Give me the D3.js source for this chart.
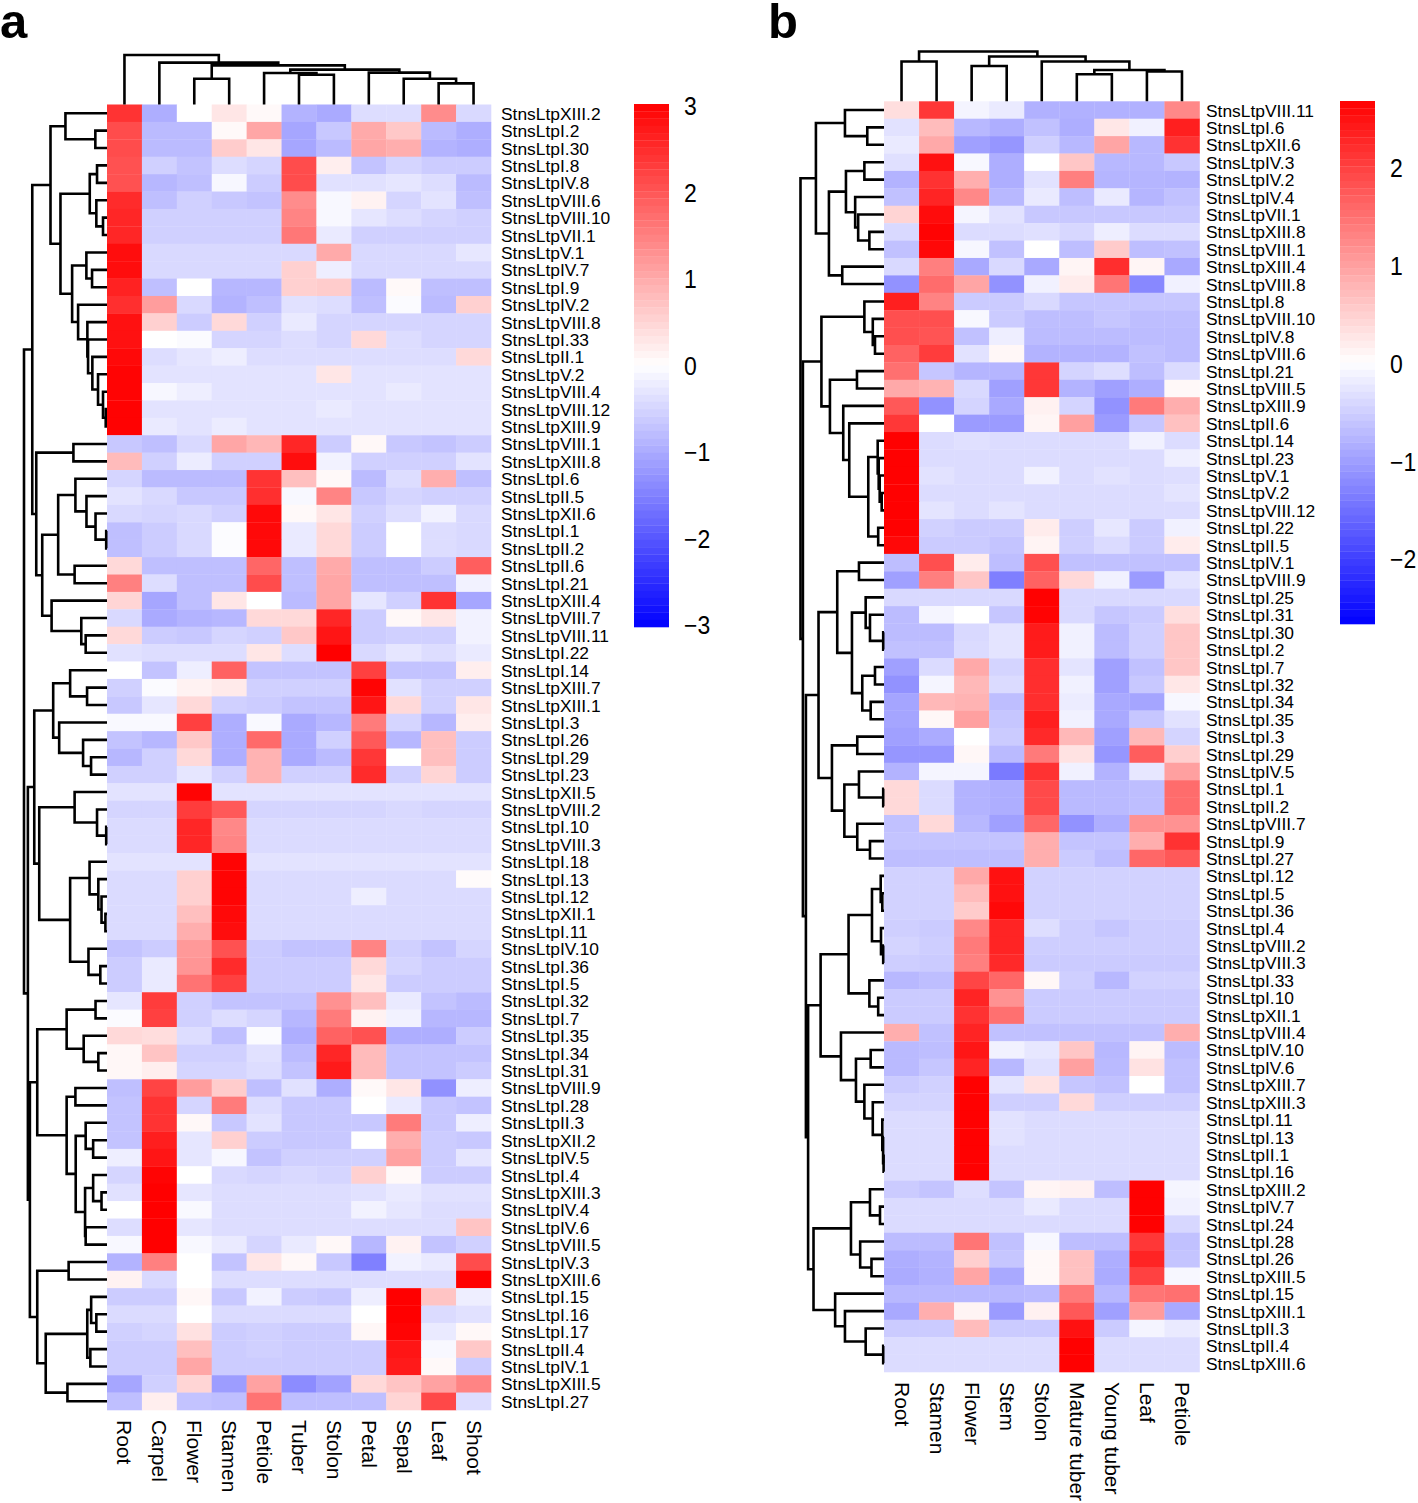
<!DOCTYPE html>
<html><head><meta charset="utf-8">
<style>html,body{margin:0;padding:0;background:#fff}svg{display:block}text{font-family:"Liberation Sans",Arial,sans-serif;fill:#000}</style>
<script src="https://cdn.jsdelivr.net/npm/d3@7"></script></head><body>
<svg id="c" width="1418" height="1503"></svg>
<script>
const L = 0; // a leaf of a dendrogram; inner nodes are [mergeHeight, left, right]

const colsA = ["Root","Carpel","Flower","Stamen","Petiole","Tuber","Stolon","Petal","Sepal","Leaf","Shoot"];
const rowsA = ["XIII.2","I.2","I.30","I.8","IV.8","VIII.6","VIII.10","VII.1","V.1","IV.7","I.9","IV.2","VIII.8","I.33","II.1","V.2","VIII.4","VIII.12","XIII.9","VIII.1","XIII.8","I.6","II.5","XII.6","I.1","II.2","II.6","I.21","XIII.4","VIII.7","VIII.11","I.22","I.14","XIII.7","XIII.1","I.3","I.26","I.29","I.23","XII.5","VIII.2","I.10","VIII.3","I.18","I.13","I.12","XII.1","I.11","IV.10","I.36","I.5","I.32","I.7","I.35","I.34","I.31","VIII.9","I.28","II.3","XII.2","IV.5","I.4","XIII.3","IV.4","IV.6","VIII.5","IV.3","XIII.6","I.15","I.16","I.17","II.4","IV.1","XIII.5","I.27"].map(s=>"StnsLtp"+s);
const valuesA = [
[2.4,-.95,0,.3,.07,-.9,-1,-.4,-.4,1.35,-.45],
[2.1,-.8,-.8,.07,1.05,-1.05,-.65,1,.65,-.8,-.95],
[2.1,-.8,-.8,.6,.3,-1.05,-.8,1.05,.95,-.9,-.95],
[2.05,-.55,-.7,-.4,-.5,2.1,.2,-.7,-.5,-.6,-.6],
[2.05,-.85,-.75,-.1,-.6,2.1,-.35,-.35,-.3,-.4,-.8],
[2.5,-.75,-.55,-.65,-.7,1.35,-.08,.15,-.5,-.33,-.75],
[2.55,-.55,-.55,-.55,-.55,1.45,-.08,-.3,-.4,-.5,-.55],
[2.55,-.55,-.55,-.55,-.55,1.6,-.25,-.55,-.55,-.55,-.55],
[2.85,-.45,-.45,-.45,-.45,-.45,1,-.45,-.45,-.45,-.28],
[2.85,-.45,-.45,-.45,-.45,.55,-.2,-.45,-.45,-.45,-.45],
[2.6,-.75,0,-.85,-.85,.55,.6,-.8,.07,-.75,-.75],
[2.45,1.15,-.45,-.9,-.75,-.35,-.4,-.75,-.05,-.8,.55],
[2.8,.55,-.6,.45,-.55,-.25,-.5,-.5,-.5,-.5,-.5],
[2.8,0,-.05,-.5,-.5,-.4,-.5,.45,-.4,-.5,-.5],
[2.9,-.4,-.3,-.2,-.4,-.4,-.4,-.4,-.4,-.4,.45],
[2.95,-.33,-.33,-.33,-.33,-.33,.3,-.33,-.33,-.33,-.33],
[2.95,-.1,-.2,-.33,-.33,-.33,-.33,-.33,-.25,-.33,-.33],
[2.98,-.33,-.33,-.33,-.33,-.33,-.25,-.33,-.33,-.33,-.33],
[2.98,-.25,-.33,-.22,-.33,-.33,-.33,-.33,-.33,-.33,-.33],
[-.65,-.75,-.45,1.05,.85,2.55,-.6,.08,-.65,-.7,-.6],
[.8,-.55,-.22,-.55,-.55,2.85,-.15,-.55,-.55,-.55,-.33],
[-.5,-.8,-.8,-.8,2.4,.75,.07,-.8,-.4,.95,-.75],
[-.33,-.45,-.65,-.65,2.45,-.08,1.45,-.65,-.5,-.55,-.55],
[-.45,-.5,-.45,-.55,2.9,.07,.3,-.55,-.4,-.15,-.45],
[-.75,-.6,-.45,-.03,2.9,-.25,.45,-.6,0,-.4,-.45],
[-.75,-.6,-.45,-.03,2.9,-.25,.45,-.6,0,-.4,-.45],
[.45,-.75,-.75,-.75,1.8,-.75,1,-.75,-.75,-.6,1.9],
[1.5,-.4,-.75,-.75,2.1,-.75,1.05,-.75,-.75,-.75,-.15],
[.5,-1.05,-.75,.3,0,-.8,1.05,-.3,-.55,2.4,-1.05],
[-.45,-1,-.9,-.85,.45,.45,2.55,-.6,.08,.3,-.15],
[.45,-.6,-.65,-.5,-.55,.65,2.75,-.6,-.55,-.55,-.15],
[-.35,-.4,-.4,-.4,.3,-.4,3,-.45,-.3,-.4,-.25],
[0,-.7,-.2,1.85,-.7,-.7,-.7,2.25,-.7,-.7,.2],
[-.55,-.05,.15,.25,-.55,-.55,-.55,2.95,-.35,-.55,-.55],
[-.65,-.3,.45,-.55,-.6,-.7,-.7,2.75,.45,-.55,.3],
[-.07,-.07,2.25,-.95,-.07,-1,-.85,1.55,-.5,-.85,.2],
[-.7,-.85,.65,-.95,1.75,-1,-.55,1.95,-.85,.75,-.6],
[-.85,-.55,.45,-.95,.9,-1,-.8,2.35,0,.75,-.6],
[-.55,-.55,-.3,-.55,.9,-.55,-.55,2.5,-.55,.5,-.6],
[-.33,-.33,2.95,-.33,-.33,-.33,-.33,-.33,-.33,-.33,-.33],
[-.5,-.5,2.3,1.95,-.5,-.5,-.5,-.5,-.45,-.5,-.5],
[-.42,-.42,2.55,1.4,-.42,-.42,-.42,-.42,-.42,-.42,-.42],
[-.42,-.42,2.55,1.45,-.42,-.42,-.42,-.42,-.42,-.42,-.42],
[-.33,-.33,-.33,2.95,-.33,-.33,-.33,-.33,-.33,-.33,-.33],
[-.42,-.42,.55,2.95,-.42,-.42,-.42,-.42,-.42,-.42,.05],
[-.42,-.42,.55,2.95,-.42,-.42,-.42,-.2,-.42,-.42,-.42],
[-.42,-.42,.75,2.9,-.42,-.42,-.42,-.42,-.42,-.42,-.42],
[-.42,-.42,.95,2.85,-.42,-.42,-.42,-.42,-.42,-.42,-.42],
[-.7,-.6,1.2,2.05,-.6,-.7,-.7,1.45,-.55,-.7,-.5],
[-.6,-.25,1.25,2.5,-.6,-.6,-.6,.45,-.5,-.6,-.6],
[-.6,-.25,1.65,2.25,-.6,-.6,-.6,.3,-.6,-.6,-.6],
[-.3,2.3,-.55,-.7,-.7,-.7,1.3,.75,-.25,-.7,-.8],
[-.05,2.25,-.55,-.4,-.5,-.85,1.55,.15,-.15,-.85,-.85],
[.45,.4,-.4,-.75,-.05,-.95,1.85,2.05,-.95,-.95,-.6],
[.1,.7,-.55,-.55,-.35,-.8,2.55,.8,-.7,-.7,-.7],
[.1,.2,-.5,-.5,-.4,-.7,2.7,.8,-.7,-.7,-.6],
[-.75,2.2,1.15,.6,-.75,-.35,-.95,.07,.3,-1.3,-.2],
[-.7,2.4,-.5,1.55,-.4,-.65,-.65,0,-.25,-.65,-.7],
[-.7,2.4,.08,-.65,-.33,-.65,-.65,-.65,1.55,-.65,-.2],
[-.7,2.65,-.3,.55,-.6,-.65,-.65,0,.95,-.6,-.65],
[-.2,2.75,-.3,-.1,-.7,-.55,-.55,-.55,1.1,-.6,-.3],
[-.5,2.95,0,-.45,-.5,-.45,-.5,.55,.07,-.6,-.6],
[-.35,3,-.3,-.4,-.4,-.4,-.4,-.35,-.25,-.35,-.35],
[0,3,-.07,-.4,-.4,-.4,-.4,-.15,-.3,-.4,-.4],
[-.4,3,-.3,-.4,-.4,-.4,-.4,-.4,-.4,-.4,.7],
[-.08,3,-.08,-.25,-.5,-.25,.08,-.85,.15,-.7,-.55],
[-.9,1.5,0,-.7,.3,.08,-.65,-1.5,-.15,-.25,2.1],
[.15,-.45,0,-.4,-.4,-.4,-.4,-.4,-.4,-.4,3],
[-.6,-.6,.1,-.65,-.15,-.6,-.65,-.2,3,.7,-.2],
[-.42,-.42,0,-.42,-.42,-.42,-.42,0,3,-.42,-.35],
[-.55,-.5,.35,-.6,-.55,-.6,-.6,.1,2.95,-.25,.08],
[-.6,-.6,.75,-.6,-.55,-.6,-.6,-.6,2.75,-.08,.65],
[-.6,-.6,1.05,-.6,-.6,-.6,-.6,-.6,2.7,.07,-.6],
[-1.05,-.55,.5,-1.15,1.1,-1.35,-1.1,.45,.7,1.1,1.45],
[-.75,.2,-.7,-.75,1.65,-.75,-.75,-.75,.5,2.15,-.4]];
const rowTreeA = [83.3,
 [75,
  [56.7,[41.7,L,[11.7,L,L]],
   [46.7,[17.3,[10,L,L],[10.7,L,[4,L,L]]],
    [35,[20.7,L,[15,L,L]],
     [29,L,[19.7,L,[19,L,[14.7,L,[9,L,[4,L,[1.3,L,L]]]]]]]]]],
  [71,[33.7,L,L],
   [65,[49,[31.7,L,[20.6,L,[11.5,L,[0.8,L,L]]]],[32.5,L,L]],
    [55.6,L,[25.8,L,[21.4,L,L]]]]]],
 [79.4,
  [73,[54,[37,L,[20,L,L]],[48,L,[24,L,[16,L,L]]]],
   [68,[32.5,L,[10,L,[0.8,L,L]]],
    [37,[17.5,L,[8.7,L,[5.5,L,[1.6,L,L]]]],[18.6,L,[6.7,L,L]]]]],
  [77.4,
   [70,[40.5,[11.5,L,L],[23.4,L,[8.7,L,L]]],
    [40.5,[31.7,L,L],[31.4,[21.4,L,[13.9,L,L]],[22,[13.9,L,[5.5,L,L]],[21.4,L,L]]]]],
   [70,[38.5,L,L],[61.5,[19.8,[15.9,L,[10.7,L,L]],[16.7,L,L]],[39.7,L,L]]]]]];
const colTreeA = [49.3,L,[41.7,L,[39,[25.7,L,L],[34.7,[31.3,L,[29.7,L,L]],[31.7,L,[25.7,L,[21,L,L]]]]]]];
const ticksA = [3,2,1,0,-1,-2,-3];

const colsB = ["Root","Stamen","Flower","Stem","Stolon","Mature tuber","Young tuber","Leaf","Petiole"];
const rowsB = ["VIII.11","I.6","XII.6","IV.3","IV.2","IV.4","VII.1","XIII.8","VIII.1","XIII.4","VIII.8","I.8","VIII.10","IV.8","VIII.6","I.21","VIII.5","XIII.9","II.6","I.14","I.23","V.1","V.2","VIII.12","I.22","II.5","IV.1","VIII.9","I.25","I.31","I.30","I.2","I.7","I.32","I.34","I.35","I.3","I.29","IV.5","I.1","II.2","VIII.7","I.9","I.27","I.12","I.5","I.36","I.4","VIII.2","VIII.3","I.33","I.10","XII.1","VIII.4","IV.10","IV.6","XIII.7","XIII.3","I.11","I.13","II.1","I.16","XIII.2","IV.7","I.24","I.28","I.26","XIII.5","I.15","XIII.1","II.3","II.4","XIII.6"].map(s=>"StnsLtp"+s);
const valuesB = [
[.35,2.1,-.12,-.22,-.82,-.82,-.82,-.82,1.25],
[-.3,.7,-.75,-.85,-.65,-.85,.25,-.15,2.35],
[-.22,.9,-1,-1.1,-.5,-.75,.95,-.75,2.15],
[-.33,2.5,-.07,-.85,0,.6,-.75,-.75,-.58],
[-.8,2.15,.85,-.85,-.3,1.35,-.78,-.78,-.8],
[-.65,2.3,1.25,-.75,-.22,-.68,-.22,-.78,-.65],
[.45,2.55,-.1,-.3,-.58,-.58,-.58,-.58,-.58],
[-.4,2.65,-.37,-.37,-.33,-.42,-.18,-.37,-.37],
[-.65,2.6,-.08,-.65,0,-.68,.55,-.68,-.65],
[-.4,1.35,-.9,-.4,-.9,.1,2.2,.1,-.9],
[-1.15,1.55,.95,-1.15,-.15,.2,1.45,-1.25,-.15],
[2.35,1.3,-.55,-.55,-.4,-.6,-.6,-.6,-.6],
[1.85,1.85,-.07,-.55,-.68,-.68,-.6,-.68,-.68],
[1.85,1.8,-.65,-.18,-.7,-.7,-.7,-.7,-.7],
[1.65,2.05,-.3,.08,-.8,-.8,-.8,-.65,-.7],
[1.5,-.6,-.78,-.78,2.1,-.45,-.35,-.68,-.38],
[.9,.8,-.4,-1,2.1,-.8,-1,-.85,.07],
[1.75,-1.15,-.45,-.9,.15,-.45,-1.15,1.4,.85],
[2.1,0,-1.05,-1.05,.1,1,-1.05,-.6,.65],
[2.67,-.37,-.33,-.37,-.37,-.37,-.37,-.15,-.37],
[2.67,-.37,-.37,-.37,-.37,-.37,-.37,-.37,-.17],
[2.67,-.3,-.37,-.37,-.15,-.37,-.3,-.37,-.35],
[2.67,-.37,-.37,-.37,-.37,-.37,-.37,-.37,-.28],
[2.67,-.28,-.37,-.28,-.37,-.37,-.37,-.37,-.37],
[2.67,-.48,-.55,-.55,.2,-.52,-.25,-.55,-.15],
[2.6,-.55,-.55,-.62,.12,-.5,-.38,-.55,.2],
[-.68,1.85,.2,-.68,1.85,-.65,-.65,-.65,-.65],
[-1,1.35,.6,-1.35,1.65,.4,-.15,-1.05,-.28],
[-.4,-.4,-.4,-.4,2.67,-.4,-.4,-.4,-.4],
[-.7,-.1,0,-.6,2.65,-.4,-.6,-.55,.35],
[-.7,-.7,-.4,-.28,2.4,-.15,-.7,-.5,.6],
[-.65,-.65,-.38,-.28,2.4,-.15,-.7,-.5,.6],
[-1,-.38,.9,-.45,2.2,-.28,-1,-.65,.6],
[-1.15,-.1,.75,-.38,2.2,-.15,-1,-.58,.25],
[-.95,.75,.8,-.68,2.2,-.2,-.9,-.95,-.08],
[-.95,.08,1,-.6,2.35,-.15,-.9,-.6,-.3],
[-1,-.88,0,-.55,2.25,.75,-1,.75,-.45],
[-1.1,-1.1,.08,-.72,1.4,.3,-1.1,1.7,.5],
[-.8,-.1,-.1,-1.4,2.15,-.15,-.8,-.25,1],
[.4,-.38,-.8,-.85,1.9,-.72,-.72,-.68,1.55],
[.4,-.38,-.8,-.85,1.9,-.72,-.72,-.68,1.55],
[-.65,.4,-.75,-1,1.6,-1.15,-.85,1.15,1.15],
[-.62,-.62,-.62,-.62,.85,-.62,-.62,.85,2.15],
[-.68,-.68,-.68,-.68,.85,-.55,-.68,1.6,1.75],
[-.47,-.47,.9,2.5,-.47,-.47,-.47,-.47,-.47],
[-.47,-.47,.7,2.5,-.47,-.47,-.47,-.47,-.47],
[-.47,-.47,.55,2.6,-.47,-.47,-.47,-.47,-.47],
[-.5,-.55,1.25,2.3,-.35,-.52,-.6,-.52,-.52],
[-.45,-.52,1.4,2.3,-.52,-.52,-.52,-.52,-.52],
[-.52,-.55,1.35,2.25,-.55,-.55,-.55,-.55,-.55],
[-.75,-.68,1.95,1.6,.08,-.5,-.75,-.47,-.47],
[-.55,-.55,2.3,1.15,-.55,-.55,-.55,-.55,-.55],
[-.55,-.55,2.15,1.5,-.55,-.55,-.55,-.55,-.55],
[.85,-.65,2.3,-.65,-.65,-.65,-.65,-.65,.85],
[-.72,-.68,2.45,-.15,-.25,.6,-.75,.12,-.7],
[-.72,-.6,2.3,-.75,-.33,1,-.72,.3,-.65],
[-.55,-.48,2.67,-.28,.3,-.6,-.65,0,-.65],
[-.45,-.45,2.67,-.5,-.5,.4,-.5,-.5,-.5],
[-.37,-.37,2.67,-.3,-.37,-.37,-.37,-.37,-.37],
[-.37,-.37,2.67,-.3,-.37,-.37,-.37,-.37,-.37],
[-.37,-.37,2.67,-.37,-.37,-.37,-.37,-.37,-.37],
[-.37,-.37,2.67,-.37,-.37,-.37,-.37,-.37,-.37],
[-.55,-.62,-.35,-.62,.1,.15,-.68,2.67,-.1],
[-.38,-.38,-.38,-.38,-.22,-.38,-.38,2.67,-.15],
[-.38,-.38,-.38,-.38,-.38,-.38,-.38,2.67,-.42],
[-.7,-.7,1.45,-.65,-.08,-.68,-.68,2.1,-.65],
[-.85,-.8,.5,-.6,.07,.65,-.85,2.3,-.62],
[-.88,-.82,.95,-.9,.07,.65,-.88,2,-.08],
[-.75,-.75,-.75,-.75,-.72,1.4,-.75,1.45,1.5],
[-.9,.85,.12,-1.05,.15,1.75,-1,1.05,-.9],
[-.55,-.55,.7,-.55,-.55,2.5,-.55,-.12,-.22],
[-.37,-.37,-.37,-.37,-.37,2.67,-.37,-.37,-.37],
[-.37,-.37,-.37,-.37,-.37,2.67,-.37,-.37,-.37]];
const rowTreeB = [83.4,
 [68,[39,L,[16.7,L,L]],
  [55,[38,[19.6,L,L],[28.8,L,[25.8,L,[14.6,L,L]]]],[41.7,L,L]]],
 [81,
  [62.5,[19.6,L,[11.2,L,[9,L,L]]],
   [54,[27,L,L],[40.7,L,[34.7,L,[15.7,[6.3,L,[5.3,L,[4.3,L,[2.3,L,L]]]],[5.8,L,L]]]]]],
  [78,
   [65.4,
    [46.7,[25,L,L],[32,[18.3,L,[14,L,[0.8,L,L]]],[21.7,[9,L,L],[13.3,L,L]]]],
    [52,[26.7,L,L],[39.6,[25,L,[0.8,L,L]],[26.7,L,[14,L,L]]]]],
   [75.8,
    [63.3,
     [35.4,[12,[3.3,L,[1.7,L,L]],[3,L,[0.8,L,L]]],[14.6,L,[5.8,L,L]]],
     [43,L,[28,[13.3,L,L],[19.6,L,[11.2,L,[1.7,L,[0.9,L,[0.4,L,L]]]]]]]],
    [70.4,
     [33,[14,L,[4,L,L]],[23.8,L,[12.5,L,L]]],
     [48.8,L,[39,L,[18.3,L,[0.8,L,L]]]]]]]]];
const colTreeB = [49.7,[39.7,L,L],[44.7,[35.3,L,L],[39.7,L,[31.3,[27,L,L],[29.7,L,L]]]]];
const ticksB = [2,1,0,-1,-2];

const svg = d3.select("#c");

function dendrogram(g, tree, band, span, horizontal){
  const root = d3.hierarchy(tree, d => Array.isArray(d) ? d.slice(1) : null);
  const h = d3.scaleLinear().domain([0, tree[0]]).range(span);
  root.leaves().forEach((n,i) => { n.pos = band(i) + band.bandwidth()/2; });
  root.eachAfter(n => { if(n.children) n.pos = (n.children[0].pos + n.children[1].pos)/2; });
  const H = n => h(n.children ? n.data[0] : 0);
  g.selectAll("path").data(root.descendants().filter(n => n.children)).join("path")
    .attr("fill","none").attr("stroke","#000").attr("stroke-width",2.6)
    .attr("d", n => {
      const [a,b] = n.children;
      const pts = [[H(a),a.pos],[H(n),a.pos],[H(n),b.pos],[H(b),b.pos]];
      return d3.line()(horizontal ? pts : pts.map(p => [p[1],p[0]]));
    });
}

function panel(o){
  const x = d3.scaleBand().domain(d3.range(o.cols.length)).range([o.x0,o.x1]);
  const y = d3.scaleBand().domain(d3.range(o.rows.length)).range([o.y0,o.y1]);
  const color = d3.scaleLinear().domain([-o.max,0,o.max]).range(["#0000ff","#ffffff","#ff0000"]);
  const g = svg.append("g");
  g.selectAll("g").data(o.values).join("g").selectAll("rect")
    .data((r,i) => r.map((v,j) => ({v,i,j}))).join("rect")
    .attr("x",d=>x(d.j)).attr("y",d=>y(d.i))
    .attr("width",x.bandwidth()+.3).attr("height",y.bandwidth()+.3)
    .attr("fill",d=>color(d.v));

  dendrogram(svg.append("g"), o.rowTree, y, [o.x0,o.rowEdge], true);
  dendrogram(svg.append("g"), o.colTree, x, [o.y0,o.colEdge], false);

  const yLab = d3.scalePoint().domain(o.rows).range([y(0)+y.bandwidth()/2, y(o.rows.length-1)+y.bandwidth()/2]);
  const ax = svg.append("g").attr("transform",`translate(${o.x1+o.labelGap},0)`)
    .call(d3.axisRight(yLab).tickSize(0).tickPadding(0));
  ax.select(".domain").remove();
  ax.selectAll(".tick text").attr("font-size",17.4).attr("font-family",null)
    .attr("dy",null).attr("dominant-baseline","central");

  const xLab = d3.scalePoint().domain(o.cols).range([x(0)+x.bandwidth()/2, x(o.cols.length-1)+x.bandwidth()/2]);
  const bx = svg.append("g").attr("transform",`translate(0,${o.y1+10})`)
    .call(d3.axisBottom(xLab).tickSize(0).tickPadding(0));
  bx.select(".domain").remove();
  bx.selectAll(".tick text").attr("font-size",21).attr("font-family",null)
    .attr("y",0).attr("dy",null).attr("text-anchor","start").attr("dominant-baseline","central")
    .attr("transform","rotate(90)");

  const steps = d3.range(o.bands);
  const bandY = d3.scaleBand().domain(steps).range([o.cbY0,o.cbY1]);
  svg.append("g").selectAll("rect").data(steps).join("rect")
    .attr("x",o.cbX).attr("width",o.cbW).attr("y",s=>bandY(s)).attr("height",bandY.bandwidth()+.3)
    .attr("fill",s=>color(o.max - 2*o.max*(s+.5)/o.bands));
  const tickScale = d3.scaleLinear().domain(o.tickDomain).range(o.tickRange);
  const cx = svg.append("g").attr("transform",`translate(${o.cbX+o.cbW+15},0)`)
    .call(d3.axisRight(tickScale).tickValues(o.ticks).tickFormat(d3.format("d")).tickSize(0).tickPadding(0));
  cx.select(".domain").remove();
  cx.selectAll(".tick text").attr("font-size",23).attr("font-family",null)
    .attr("dy",null).attr("dominant-baseline","central").attr("transform","scale(1,1.1)");

  svg.append("text").attr("x",o.letterX).attr("y",38).attr("font-size",49).attr("font-weight","bold").text(o.letter);
}

panel({letter:"a",letterX:0,cols:colsA,rows:rowsA,values:valuesA,rowTree:rowTreeA,colTree:colTreeA,max:3,ticks:ticksA,
  x0:107,x1:491,y0:104.5,y1:1410,rowEdge:24,colEdge:55,labelGap:10,cbX:634,cbW:35,cbY0:104,cbY1:627,bands:72,
  tickDomain:[-3,3],tickRange:[625,106]});
panel({letter:"b",letterX:768,cols:colsB,rows:rowsB,values:valuesB,rowTree:rowTreeB,colTree:colTreeB,max:2.68,ticks:ticksB,
  x0:884,x1:1199.5,y0:101.3,y1:1372,rowEdge:800.5,colEdge:51.5,labelGap:6.5,cbX:1340,cbW:35,cbY0:101,cbY1:624,bands:72,
  tickDomain:[-2,2],tickRange:[559,168]});
</script></body></html>
